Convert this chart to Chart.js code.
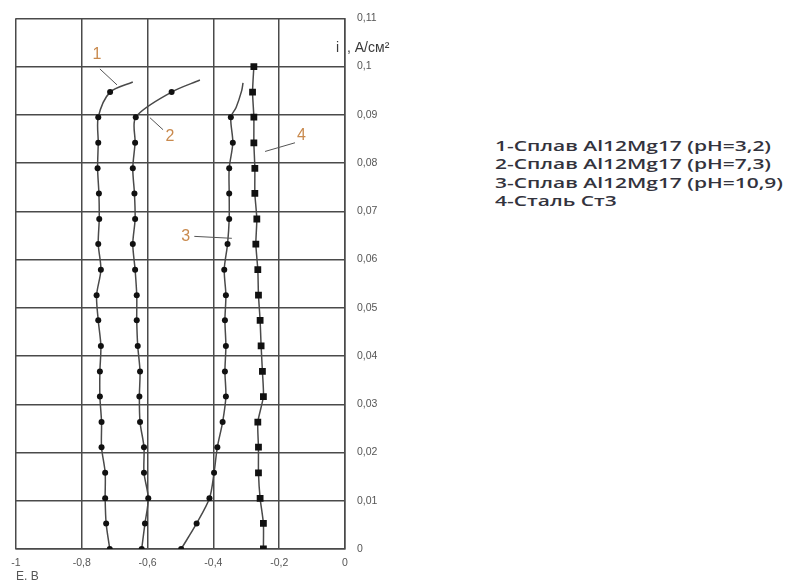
<!DOCTYPE html>
<html><head><meta charset="utf-8">
<script src="https://cdn.jsdelivr.net/npm/chart.js@4/dist/chart.umd.min.js"></script>
<style>
html,body{margin:0;padding:0;background:#fff;width:786px;height:580px;overflow:hidden}
#wrap{position:absolute;left:0;top:0;width:420px;height:580px}
#legend{position:absolute;left:495px;top:137px;font-family:"Open Sans",sans-serif;font-size:14px;font-weight:600;line-height:18.3px;color:#33333d;transform-origin:0 0;white-space:nowrap}
</style></head><body>
<div id="wrap"><canvas id="c" width="420" height="580"></canvas></div>
<div id="legend"></div>
<script>
// current density levels, A/cm2
const iLevels = [0, 0.0053, 0.0105, 0.0158, 0.0211, 0.0263, 0.0316, 0.0368, 0.0421, 0.0474, 0.0526, 0.0579, 0.0632, 0.0684, 0.0737, 0.0789, 0.0842, 0.0895, 0.0947, 0.1];
// potentials, V
const series1E = [-0.715,-0.726,-0.729,-0.729,-0.740,-0.740,-0.745,-0.745,-0.742,-0.750,-0.755,-0.742,-0.750,-0.747,-0.748,-0.752,-0.750,-0.750,-0.714];
const series1TailE = [-0.645];
const series1TailI = [0.0968];
const series2E = [-0.618,-0.608,-0.598,-0.611,-0.611,-0.623,-0.625,-0.623,-0.630,-0.633,-0.633,-0.638,-0.645,-0.638,-0.640,-0.645,-0.638,-0.636,-0.527];
const series2TailE = [-0.441];
const series2TailI = [0.0972];
const series3E = [-0.498,-0.451,-0.412,-0.398,-0.388,-0.372,-0.362,-0.365,-0.362,-0.365,-0.362,-0.367,-0.357,-0.352,-0.352,-0.352,-0.341,-0.347];
const series3TailE = [-0.331,-0.314,-0.310];
const series3TailI = [0.0915,0.0950,0.0966];
const series4E = [-0.248,-0.248,-0.258,-0.263,-0.263,-0.265,-0.248,-0.251,-0.255,-0.258,-0.263,-0.265,-0.271,-0.268,-0.274,-0.274,-0.277,-0.277,-0.281,-0.277];

const xTickLabels = ['-1','-0,8','-0,6','-0,4','-0,2','0'];
const yTickLabels = ['0','0,01','0,02','0,03','0,04','0,05','0,06','0,07','0,08','0,09','0,1','0,11'];
const legendLabels = ['1-Сплав Al12Mg17 (pH=3,2)','2-Сплав Al12Mg17 (pH=7,3)','3-Сплав Al12Mg17 (pH=10,9)','4-Сталь Ст3'];
const xTitle = 'E, B';
const yTitleA = 'i';
const yTitleB = ', A/см²';

// callouts (data units)
const calloutText = ['1','2','3','4'];
const calloutTextE = [-0.754,-0.532,-0.484,-0.132];
const calloutTextI = [0.1024,0.0855,0.0648,0.0857];
const calloutFromE = [-0.745,-0.593,-0.458,-0.152];
const calloutFromI = [0.0995,0.0894,0.0648,0.0842];
const calloutToE = [-0.693,-0.553,-0.344,-0.243];
const calloutToI = [0.0962,0.0869,0.0644,0.0824];

function pts(E, I, tailE, tailI){
  const d = E.map((e,k)=>({x:e, y:I[k]}));
  tailE.forEach((e,k)=>d.push({x:e, y:tailI[k]}));
  return d;
}
function radii(n, tail, r){ return Array(n).fill(r).concat(Array(tail).fill(0)); }

document.getElementById('legend').innerHTML = legendLabels.map(t=>'<div><span>'+t+'</span></div>').join('');
(function(){
  const spans = document.querySelectorAll('#legend span');
  let w = 0; spans.forEach(s=>{ w = Math.max(w, s.getBoundingClientRect().width); });
  if (w>0) document.getElementById('legend').style.transform = 'scaleX(' + (288/w) + ')';
})();

const lineCol = '#4a4a4a';
const gridCol = '#4a4a4a';
const tickFont = {size:10.5, family:'"Liberation Sans", Arial'};

const callouts = {
  id:'callouts',
  afterDatasetsDraw(chart){
    const {ctx, scales:{x,y}, chartArea} = chart;
    ctx.save();
    ctx.strokeStyle = '#555';
    ctx.lineWidth = 1;
    for (let k=0;k<calloutText.length;k++){
      ctx.beginPath();
      ctx.moveTo(x.getPixelForValue(calloutFromE[k]), y.getPixelForValue(calloutFromI[k]));
      ctx.lineTo(x.getPixelForValue(calloutToE[k]), y.getPixelForValue(calloutToI[k]));
      ctx.stroke();
      ctx.fillStyle = '#c98a4e';
      ctx.font = '16px "Liberation Sans", Arial, sans-serif';
      ctx.textAlign = 'center';
      ctx.textBaseline = 'middle';
      ctx.fillText(calloutText[k], x.getPixelForValue(calloutTextE[k]), y.getPixelForValue(calloutTextI[k]));
    }
    // y axis title
    ctx.fillStyle = '#3a3a3a';
    ctx.font = '14px "Liberation Sans", Arial, sans-serif';
    ctx.textAlign = 'left';
    ctx.textBaseline = 'middle';
    const ty = y.getPixelForValue(0.1) - 18;
    ctx.fillText(yTitleA, chartArea.right - 9, ty);
    ctx.fillText(yTitleB, chartArea.right + 2, ty);
    ctx.restore();
  }
};

new Chart(document.getElementById('c'), {
  type:'scatter',
  data:{ datasets:[
    {label:legendLabels[0], data:pts(series1E, iLevels, series1TailE, series1TailI), showLine:true, borderColor:lineCol, borderWidth:1.5, tension:0.3,
     pointStyle:'circle', pointRadius:radii(series1E.length, series1TailE.length, 3), pointBackgroundColor:'#111', pointBorderWidth:0},
    {label:legendLabels[1], data:pts(series2E, iLevels, series2TailE, series2TailI), showLine:true, borderColor:lineCol, borderWidth:1.5, tension:0.3,
     pointStyle:'circle', pointRadius:radii(series2E.length, series2TailE.length, 3), pointBackgroundColor:'#111', pointBorderWidth:0},
    {label:legendLabels[2], data:pts(series3E, iLevels, series3TailE, series3TailI), showLine:true, borderColor:lineCol, borderWidth:1.5, tension:0.3,
     pointStyle:'circle', pointRadius:radii(series3E.length, series3TailE.length, 3), pointBackgroundColor:'#111', pointBorderWidth:0},
    {label:legendLabels[3], data:pts(series4E, iLevels, [], []), showLine:true, borderColor:lineCol, borderWidth:1.5, tension:0.2,
     pointStyle:'rect', pointRadius:4.8, pointBackgroundColor:'#111', pointBorderWidth:0}
  ]},
  options:{
    responsive:false, animation:false, devicePixelRatio:1,
    layout:{padding:{left:16, top:15, right:0, bottom:0}},
    plugins:{legend:{display:false}, tooltip:{enabled:false}},
    scales:{
      x:{type:'linear', min:-1, max:0, position:'bottom',
         afterFit(s){ s.height = 31; },
         ticks:{stepSize:0.2, padding:8, color:'#555', font:tickFont, maxRotation:0,
                callback:(v,i)=>xTickLabels[i]},
         grid:{color:gridCol, lineWidth:1.5, drawTicks:false},
         border:{display:true, color:gridCol, width:1.5},
         title:{display:true, text:xTitle, align:'start', color:'#555', font:{size:12, family:'"Liberation Sans", Arial'}, padding:{top:0, bottom:-4}}
      },
      y:{type:'linear', min:0, max:0.11, position:'right',
         afterFit(s){ s.width = 75; },
         ticks:{stepSize:0.01, padding:12, color:'#555', font:tickFont,
                callback:(v,i)=>yTickLabels[i]},
         grid:{color:gridCol, lineWidth:1.5, drawTicks:false},
         border:{display:true, color:gridCol, width:1.5}
      }
    }
  },
  plugins:[callouts]
});
</script>
</body></html>
